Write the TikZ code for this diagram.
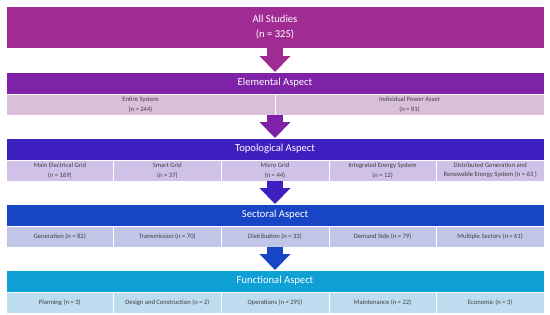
\documentclass[tikz,border=0pt]{standalone}
\usepackage{fontspec}
\setmainfont{Carlito}
\usepackage{tikz}
\usetikzlibrary{arrows.meta,positioning}
\definecolor{allc}{HTML}{A02B93}
\definecolor{elemc}{HTML}{7E22A8}
\definecolor{elemsub}{HTML}{D9BFD9}
\definecolor{topoc}{HTML}{3E1FBF}
\definecolor{toposub}{HTML}{CFC1E8}
\definecolor{sectc}{HTML}{1845C6}
\definecolor{sectsub}{HTML}{C1C5E8}
\definecolor{funcc}{HTML}{0FA0D6}
\definecolor{funcsub}{HTML}{BEDCEF}
\definecolor{celltext}{HTML}{404040}
\tikzset{
  topbox/.style={draw=white,line width=0.4pt,fill=#1,text=white,minimum width=538pt,minimum height=42pt,inner sep=0pt,outer sep=0pt,align=center,font=\fontsize{10.6}{15}\selectfont},
  head/.style={topbox=#1,minimum height=22pt,font=\fontsize{10.6}{12}\selectfont},
  cell/.style={draw=white,line width=0.4pt,fill=#1,text=celltext,minimum height=21pt,minimum width=107.6pt,inner sep=0pt,outer sep=0pt,align=center,font=\fontsize{6.6}{10}\selectfont},
  halfcell/.style={cell=#1,minimum width=269pt},
  blockar/.style={-{Triangle[width=31pt,length=16pt,line width=0pt]},line width=16pt,draw=#1},
}

\begin{document}
\begin{tikzpicture}[x=1pt,y=1pt]
  \useasboundingbox (0,0) rectangle (550,-314);
  \node[topbox=allc] (all) at (275,-27) {All Studies\\(n = 325)};
  % elemental
  \node[head=elemc,below=24pt of all] (elem) {Elemental Aspect};
  \node[halfcell=elemsub,anchor=north west] (e1) at (elem.south west) {Entire System\\(n = 244)};
  \node[halfcell=elemsub,right=0pt of e1] (e2) {Individual Power Asset\\(n = 81)};
  % topological
  \node[head=topoc,below=23pt of e1.south east] (topo) {Topological Aspect};
  \node[cell=toposub,anchor=north west] (t1) at (topo.south west) {Main Electrical Grid\\(n = 169)};
  \node[cell=toposub,right=0pt of t1] (t2) {Smart Grid\\(n = 37)};
  \node[cell=toposub,right=0pt of t2] (t3) {Micro Grid\\(n = 44)};
  \node[cell=toposub,right=0pt of t3] (t4) {Integrated Energy System\\(n = 12)};
  \node[cell=toposub,right=0pt of t4,font=\fontsize{6.6}{8.5}\selectfont] (t5) {Distributed Generation and\\Renewable Energy System (n = 63 )};
  % sectoral
  \node[head=sectc,below=23pt of t3.south] (sect) {Sectoral Aspect};
  \node[cell=sectsub,anchor=north west] (s1) at (sect.south west) {Generation (n = 82)};
  \node[cell=sectsub,right=0pt of s1] (s2) {Transmission (n = 70)};
  \node[cell=sectsub,right=0pt of s2] (s3) {Distribution (n = 33)};
  \node[cell=sectsub,right=0pt of s3] (s4) {Demand Side (n = 79)};
  \node[cell=sectsub,right=0pt of s4] (s5) {Multiple Sectors (n = 61)};
  % functional
  \node[head=funcc,below=23pt of s3.south] (func) {Functional Aspect};
  \node[cell=funcsub,anchor=north west] (f1) at (func.south west) {Planning (n = 3)};
  \node[cell=funcsub,right=0pt of f1] (f2) {Design and Construction (n = 2)};
  \node[cell=funcsub,right=0pt of f2] (f3) {Operations (n = 295)};
  \node[cell=funcsub,right=0pt of f3] (f4) {Maintenance (n = 22)};
  \node[cell=funcsub,right=0pt of f4] (f5) {Economic (n = 3)};
  % arrows
  \draw[blockar=allc] (all.south) -- (elem.north);
  \draw[blockar=elemc] (e1.south east) -- (topo.north);
  \draw[blockar=topoc] (t3.south) -- (sect.north);
  \draw[blockar=sectc] (s3.south) -- (func.north);
\end{tikzpicture}
\end{document}
